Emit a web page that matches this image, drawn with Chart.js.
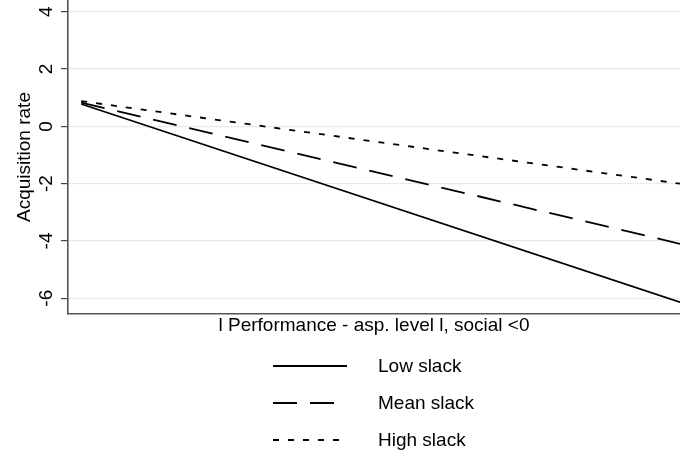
<!DOCTYPE html>
<html>
<head>
<meta charset="utf-8">
<script src="https://cdn.jsdelivr.net/npm/chart.js@4"></script>
<style>
  html, body { margin: 0; padding: 0; background: #fff; }
  #wrap { width: 680px; height: 456px; }
</style>
</head>
<body>
<div id="wrap"><canvas id="slackChart"></canvas></div>
<script>
// fitted lines, evaluated at the two ends of the x range
const xVals = [0, 10];
const lowSlack = [0.78, -6.14];
const meanSlack = [0.83, -4.1];
const highSlack = [0.88, -2.0];
const yTicks = [4, 2, 0, -2, -4, -6];
const seriesNames = ["Low slack", "Mean slack", "High slack"];
const xTitle = "l Performance - asp. level l, social <0";
const yTitle = "Acquisition rate";

const FONT = "'Liberation Sans', Arial, Helvetica, sans-serif";
const dashes = [[], [24, 13], [6, 9]];

const toPoints = (ys) => xVals.map((x, i) => ({ x: x, y: ys[i] }));

// Chart.js pads the top for rotated y labels, so the labels + titles + legend are drawn here instead
const stataText = {
    id: 'stataText',
    afterDraw(chart) {
        const ctx = chart.ctx;
        const area = chart.chartArea;
        const yScale = chart.scales.y;
        ctx.save();
        ctx.fillStyle = '#000';
        ctx.font = '19px ' + FONT;

        // y tick labels, reading bottom to top
        ctx.textAlign = 'center';
        ctx.textBaseline = 'alphabetic';
        yTicks.forEach(v => {
            ctx.save();
            ctx.translate(52, yScale.getPixelForValue(v));
            ctx.rotate(-Math.PI / 2);
            ctx.fillText(String(v), 0, 0);
            ctx.restore();
        });

        // y title
        ctx.save();
        ctx.translate(30, (area.top + area.bottom) / 2);
        ctx.rotate(-Math.PI / 2);
        ctx.fillText(yTitle, 0, 0);
        ctx.restore();

        // x title
        ctx.textBaseline = 'middle';
        ctx.fillText(xTitle, (area.left + area.right) / 2, area.bottom + 12);

        // legend, one row per series
        ctx.textAlign = 'left';
        chart.data.datasets.forEach((ds, i) => {
            const y = area.bottom + 52 + i * 37;
            ctx.beginPath();
            ctx.setLineDash(ds.borderDash);
            ctx.lineWidth = ds.borderWidth;
            ctx.strokeStyle = ds.borderColor;
            ctx.moveTo(273, y);
            ctx.lineTo(347, y);
            ctx.stroke();
            ctx.setLineDash([]);
            ctx.fillText(ds.label, 378, y + 1);
        });
        ctx.restore();
    }
};

new Chart(document.getElementById("slackChart"), {
    type: 'line',
    data: {
        datasets: [lowSlack, meanSlack, highSlack].map((ys, i) => ({
            label: seriesNames[i],
            data: toPoints(ys),
            borderColor: '#000',
            borderWidth: 1.8,
            borderDash: dashes[i],
            pointRadius: 0,
            tension: 0
        }))
    },
    options: {
        responsive: true,
        maintainAspectRatio: false,
        animation: false,
        layout: { padding: { top: 0, right: 0, left: 0, bottom: 142 } },
        plugins: {
            legend: { display: false },
            tooltip: { enabled: false }
        },
        scales: {
            x: {
                type: 'linear',
                min: -0.22,
                max: 10,
                border: { display: true, color: '#555', width: 1.6 },
                grid: { display: false, drawTicks: false },
                ticks: { display: false }
            },
            y: {
                min: -6.55,
                max: 4.41,
                afterBuildTicks: (scale) => { scale.ticks = yTicks.map(v => ({ value: v })); },
                afterFit: (scale) => { scale.width = 68; },
                border: { display: true, color: '#555', width: 1.6 },
                grid: { color: '#e9e9e9', lineWidth: 1.2, tickColor: '#444', tickLength: 7, tickWidth: 1.2 },
                ticks: { display: false }
            }
        }
    },
    plugins: [stataText]
});
</script>
</body>
</html>
